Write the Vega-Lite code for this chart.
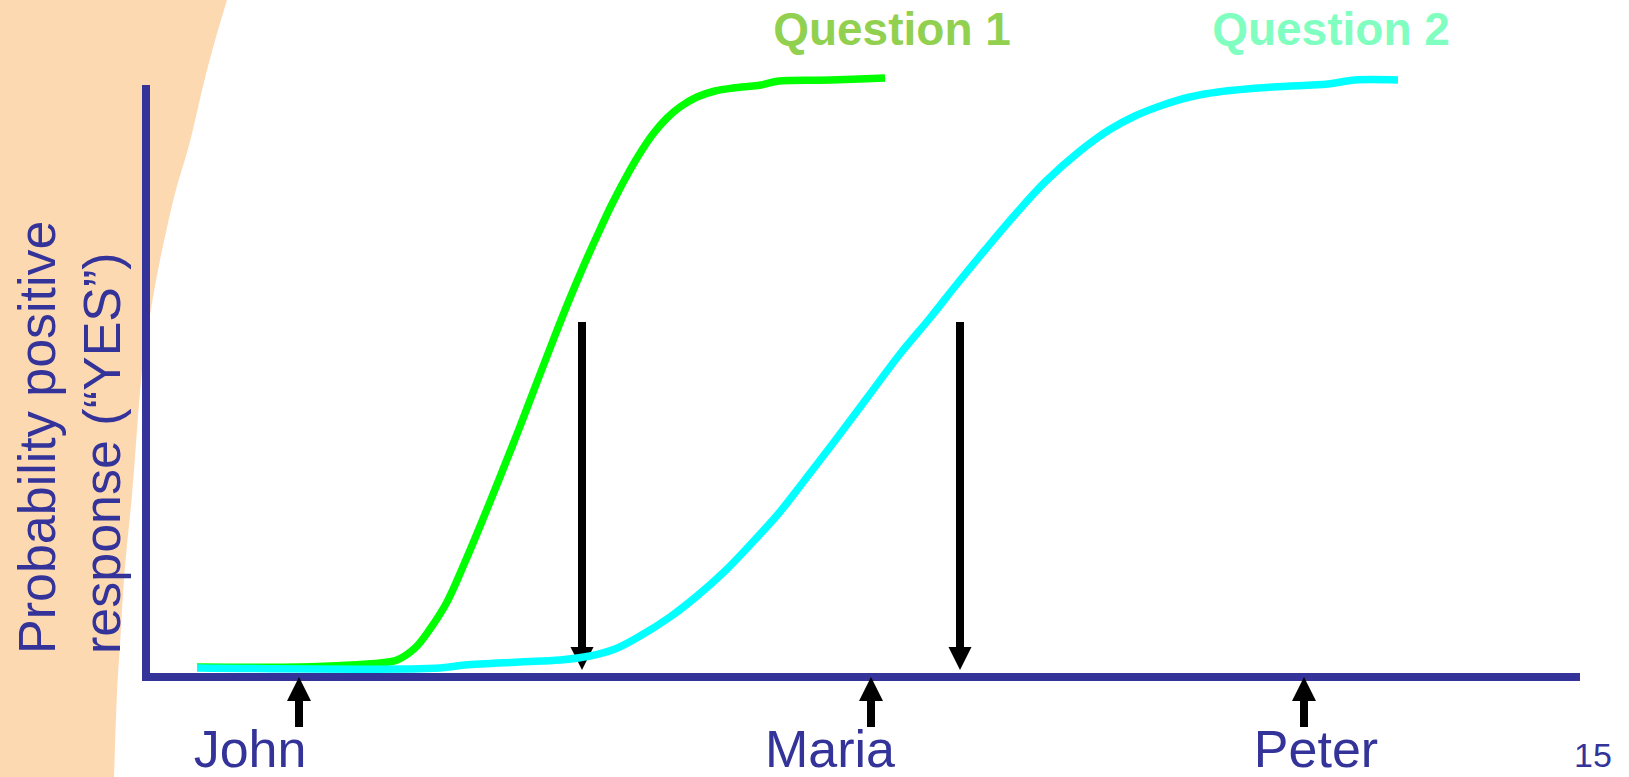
{
  "$schema": "https://vega.github.io/schema/vega-lite/v6.json",
  "width": 1629,
  "height": 777,
  "autosize": "none",
  "padding": 0,
  "background": "white",
  "config": {"view": {"stroke": null}},
  "datasets": {
    "peach": [
      {"x": 227, "y": 0}, {"x": 216, "y": 37}, {"x": 206, "y": 74}, {"x": 197, "y": 112},
      {"x": 188, "y": 149}, {"x": 177, "y": 186}, {"x": 168, "y": 223}, {"x": 160, "y": 260},
      {"x": 153, "y": 297}, {"x": 147, "y": 334}, {"x": 142, "y": 371}, {"x": 137, "y": 430},
      {"x": 132, "y": 495}, {"x": 127, "y": 545}, {"x": 123, "y": 594}, {"x": 120, "y": 645},
      {"x": 117, "y": 693}, {"x": 114, "y": 777}
    ],
    "axes": [
      {"x": 146, "x2": 146, "y": 85, "y2": 681},
      {"x": 142, "x2": 1580, "y": 677, "y2": 677}
    ],
    "shafts": [
      {"x": 582, "y": 322, "y2": 652},
      {"x": 960, "y": 322, "y2": 652},
      {"x": 299, "y": 695, "y2": 727},
      {"x": 871, "y": 695, "y2": 727},
      {"x": 1304, "y": 695, "y2": 727}
    ],
    "downHeads": [
      {"x": 582, "y": 670},
      {"x": 960, "y": 670}
    ],
    "upHeads": [
      {"x": 299, "y": 677},
      {"x": 871, "y": 677},
      {"x": 1304, "y": 677}
    ],
    "q1": [
      {"x": 197, "y": 667}, {"x": 300, "y": 667}, {"x": 351, "y": 665}, {"x": 380, "y": 663},
      {"x": 397, "y": 660}, {"x": 415, "y": 648}, {"x": 430, "y": 629}, {"x": 447, "y": 602},
      {"x": 465, "y": 562}, {"x": 483, "y": 519}, {"x": 500, "y": 477}, {"x": 519, "y": 429},
      {"x": 537, "y": 382}, {"x": 554, "y": 338}, {"x": 570, "y": 298}, {"x": 584, "y": 265},
      {"x": 597, "y": 236}, {"x": 612, "y": 204}, {"x": 630, "y": 170}, {"x": 642, "y": 150},
      {"x": 653, "y": 134}, {"x": 667, "y": 118}, {"x": 680, "y": 107}, {"x": 697, "y": 97},
      {"x": 715, "y": 91}, {"x": 733, "y": 88}, {"x": 761, "y": 85}, {"x": 779, "y": 81},
      {"x": 830, "y": 80}, {"x": 885, "y": 78}
    ],
    "q2": [
      {"x": 197, "y": 668}, {"x": 440, "y": 668}, {"x": 465, "y": 665}, {"x": 520, "y": 662},
      {"x": 560, "y": 660}, {"x": 590, "y": 656}, {"x": 615, "y": 649}, {"x": 640, "y": 636},
      {"x": 670, "y": 617}, {"x": 697, "y": 596}, {"x": 725, "y": 571}, {"x": 750, "y": 545},
      {"x": 779, "y": 513}, {"x": 804, "y": 481}, {"x": 834, "y": 442}, {"x": 867, "y": 398},
      {"x": 900, "y": 354}, {"x": 930, "y": 318}, {"x": 957, "y": 284}, {"x": 985, "y": 250},
      {"x": 1013, "y": 217}, {"x": 1045, "y": 182}, {"x": 1080, "y": 151}, {"x": 1109, "y": 130},
      {"x": 1135, "y": 116}, {"x": 1163, "y": 105}, {"x": 1190, "y": 97}, {"x": 1218, "y": 92},
      {"x": 1273, "y": 87}, {"x": 1328, "y": 84}, {"x": 1355, "y": 80}, {"x": 1398, "y": 80}
    ],
    "names": [
      {"x": 250, "y": 767, "text": "John"},
      {"x": 830, "y": 767, "text": "Maria"},
      {"x": 1316, "y": 767, "text": "Peter"}
    ],
    "ytitle": [
      {"x": 55, "y": 654, "text": "Probability positive"},
      {"x": 120, "y": 654, "text": "response (“YES”)"}
    ],
    "page": [{"x": 1593, "y": 767, "text": "15"}],
    "q1label": [{"x": 892, "y": 45, "text": "Question 1"}],
    "q2label": [{"x": 1331, "y": 45, "text": "Question 2"}]
  },
  "layer": [
    {
      "data": {"name": "peach"},
      "mark": {"type": "area", "orient": "horizontal", "color": "#FDD9B2", "interpolate": "natural"},
      "encoding": {
        "x": {"field": "x", "type": "quantitative", "scale": {"domain": [0, 1629], "nice": false, "zero": false}, "axis": null},
        "y": {"field": "y", "type": "quantitative", "scale": {"domain": [0, 777], "nice": false, "zero": false, "reverse": true}, "axis": null}
      }
    },
    {
      "data": {"name": "axes"},
      "mark": {"type": "rule", "color": "#333399", "strokeWidth": 8},
      "encoding": {
        "x": {"field": "x", "type": "quantitative", "axis": null},
        "x2": {"field": "x2"},
        "y": {"field": "y", "type": "quantitative", "axis": null},
        "y2": {"field": "y2"}
      }
    },
    {
      "data": {"name": "shafts"},
      "mark": {"type": "rule", "color": "#000000", "strokeWidth": 8},
      "encoding": {
        "x": {"field": "x", "type": "quantitative", "axis": null},
        "y": {"field": "y", "type": "quantitative", "axis": null},
        "y2": {"field": "y2"}
      }
    },
    {
      "data": {"name": "downHeads"},
      "mark": {"type": "point", "shape": "M0,0L1,-2L-1,-2Z", "size": 529, "filled": true, "color": "#000000", "opacity": 1, "strokeWidth": 0},
      "encoding": {
        "x": {"field": "x", "type": "quantitative", "axis": null},
        "y": {"field": "y", "type": "quantitative", "axis": null}
      }
    },
    {
      "data": {"name": "upHeads"},
      "mark": {"type": "point", "shape": "M0,0L1,2L-1,2Z", "size": 576, "filled": true, "color": "#000000", "opacity": 1, "strokeWidth": 0},
      "encoding": {
        "x": {"field": "x", "type": "quantitative", "axis": null},
        "y": {"field": "y", "type": "quantitative", "axis": null}
      }
    },
    {
      "data": {"name": "q1"},
      "mark": {"type": "line", "color": "#00FF00", "strokeWidth": 7.5, "interpolate": "catmull-rom", "strokeCap": "butt"},
      "encoding": {
        "x": {"field": "x", "type": "quantitative", "axis": null},
        "y": {"field": "y", "type": "quantitative", "axis": null}
      }
    },
    {
      "data": {"name": "q2"},
      "mark": {"type": "line", "color": "#00FFFF", "strokeWidth": 7.5, "interpolate": "catmull-rom", "strokeCap": "butt"},
      "encoding": {
        "x": {"field": "x", "type": "quantitative", "axis": null},
        "y": {"field": "y", "type": "quantitative", "axis": null}
      }
    },
    {
      "data": {"name": "names"},
      "mark": {"type": "text", "font": "Liberation Sans", "fontSize": 52, "color": "#333399", "align": "center", "baseline": "alphabetic"},
      "encoding": {
        "x": {"field": "x", "type": "quantitative", "axis": null},
        "y": {"field": "y", "type": "quantitative", "axis": null},
        "text": {"field": "text"}
      }
    },
    {
      "data": {"name": "ytitle"},
      "mark": {"type": "text", "font": "Liberation Sans", "fontSize": 52, "color": "#333399", "align": "left", "baseline": "alphabetic", "angle": 270},
      "encoding": {
        "x": {"field": "x", "type": "quantitative", "axis": null},
        "y": {"field": "y", "type": "quantitative", "axis": null},
        "text": {"field": "text"}
      }
    },
    {
      "data": {"name": "page"},
      "mark": {"type": "text", "font": "Liberation Sans", "fontSize": 34, "color": "#333399", "align": "center", "baseline": "alphabetic"},
      "encoding": {
        "x": {"field": "x", "type": "quantitative", "axis": null},
        "y": {"field": "y", "type": "quantitative", "axis": null},
        "text": {"field": "text"}
      }
    },
    {
      "data": {"name": "q1label"},
      "mark": {"type": "text", "font": "Liberation Sans", "fontSize": 46, "fontWeight": "bold", "color": "#92D050", "align": "center", "baseline": "alphabetic"},
      "encoding": {
        "x": {"field": "x", "type": "quantitative", "axis": null},
        "y": {"field": "y", "type": "quantitative", "axis": null},
        "text": {"field": "text"}
      }
    },
    {
      "data": {"name": "q2label"},
      "mark": {"type": "text", "font": "Liberation Sans", "fontSize": 46, "fontWeight": "bold", "color": "#80FFC0", "align": "center", "baseline": "alphabetic"},
      "encoding": {
        "x": {"field": "x", "type": "quantitative", "axis": null},
        "y": {"field": "y", "type": "quantitative", "axis": null},
        "text": {"field": "text"}
      }
    }
  ]
}
